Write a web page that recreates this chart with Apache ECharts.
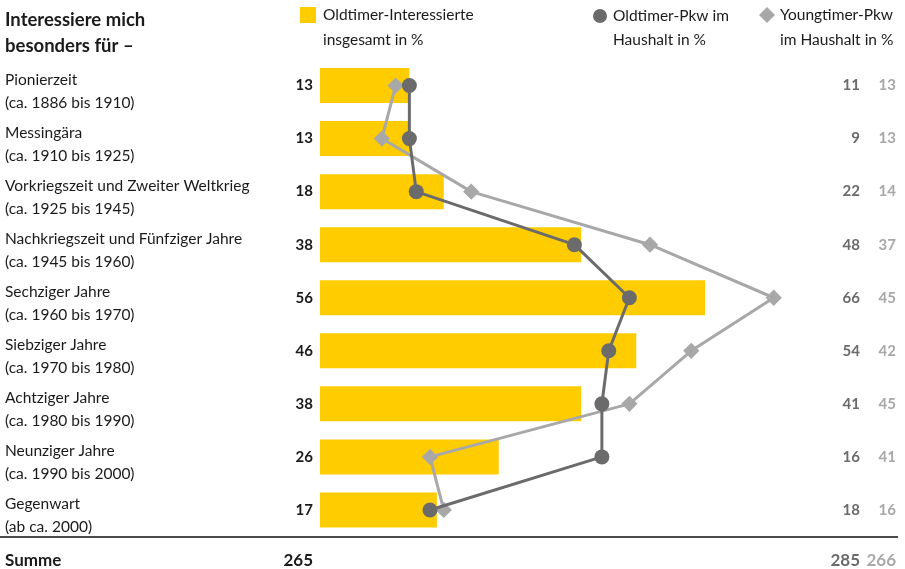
<!DOCTYPE html>
<html><head><meta charset="utf-8">
<script src="https://cdn.jsdelivr.net/npm/echarts@6/dist/echarts.min.js"></script>
<style>html,body{margin:0;padding:0;background:#fff}#c{width:905px;height:569px}</style>
</head><body><div id="c"></div><script>
const categoryNames = ['Pionierzeit','Messingära','Vorkriegszeit und Zweiter Weltkrieg','Nachkriegszeit und Fünfziger Jahre','Sechziger Jahre','Siebziger Jahre','Achtziger Jahre','Neunziger Jahre','Gegenwart'];
const categoryPeriods = ['(ca. 1886 bis 1910)','(ca. 1910 bis 1925)','(ca. 1925 bis 1945)','(ca. 1945 bis 1960)','(ca. 1960 bis 1970)','(ca. 1970 bis 1980)','(ca. 1980 bis 1990)','(ca. 1990 bis 2000)','(ab ca. 2000)'];
const interestPct = [13,13,18,38,56,46,38,26,17];
const oldtimerPkwPct = [11,9,22,48,66,54,41,16,18];
const youngtimerPkwPct = [13,13,14,37,45,42,45,41,16];
// marker positions as drawn in the original graphic
const oldtimerPkwMarkers = [13,13,14,37,45,42,41,41,16];
const youngtimerPkwMarkers = [11,9,22,48,66,54,45,16,18];
const sumLabel = 'Summe';
const sumValues = [265,285,266];
const seriesNames = ['Oldtimer-Interessierte insgesamt in %','Oldtimer-Pkw im Haushalt in %','Youngtimer-Pkw im Haushalt in %'];
const legendLines = [['Oldtimer-Interessierte','insgesamt in %'],['Oldtimer-Pkw im','Haushalt in %'],['Youngtimer-Pkw','im Haushalt in %']];
const headerLines = ['Interessiere mich','besonders für –'];

const FONT = 'Lato';
const FS = 15.5;
const YELLOW = '#FFCC00', DARK = '#6b6b6b', LIGHT = '#a8a8a8', BLACK = '#1a1a1a';

const chart = echarts.init(document.getElementById('c'), null, {renderer:'canvas'});
function legendFor(i, left, iconName, w, h, padL) {
  return {
    show: true, left: left, top: 15 - h / 2, orient: 'horizontal',
    itemWidth: w, itemHeight: h, itemGap: 0, padding: 0,
    selectedMode: false,
    data: [{name: seriesNames[i], icon: iconName}],
    formatter: () => legendLines[i][0],
    textStyle: {fontFamily: FONT, fontSize: FS, color: BLACK, padding: [0,0,0,padL]}
  };
}
const legendSecond = [[323], [613], [780]];
const option = {
  animation: false,
  textStyle: {fontFamily: FONT},
  grid: {left: 320, right: 35, top: 59, height: 477.5, containLabel: false},
  xAxis: {type: 'value', min: 0, max: 80, show: false},
  yAxis: [
    {type: 'category', inverse: true, data: categoryNames,
     axisLine: {show: false}, axisTick: {show: false}, splitLine: {show: false},
     axisLabel: {align: 'left', margin: 315, padding: [11,0,0,0],
       formatter: (v, i) => '{n|' + v + '}\n{p|' + categoryPeriods[i] + '}',
       rich: {n: {fontFamily: FONT, fontSize: FS, color: BLACK, lineHeight: 23},
              p: {fontFamily: FONT, fontSize: FS, color: BLACK, lineHeight: 23}}}},
    {type: 'category', inverse: true, position: 'right', data: categoryNames,
     axisLine: {show: false}, axisTick: {show: false},
     axisLabel: {align: 'right', margin: -10, fontFamily: FONT, fontSize: 15, fontWeight: 'bold', color: DARK,
       formatter: (v, i) => String(oldtimerPkwPct[i])}},
    {type: 'category', inverse: true, position: 'right', data: categoryNames,
     axisLine: {show: false}, axisTick: {show: false},
     axisLabel: {align: 'right', margin: 26, fontFamily: FONT, fontSize: 15, fontWeight: 'bold', color: LIGHT,
       formatter: (v, i) => String(youngtimerPkwPct[i])}}
  ],
  legend: [
    legendFor(0, 300, 'rect', 16, 16, 2),
    legendFor(1, 593, 'circle', 14, 14, 1),
    legendFor(2, 759, 'diamond', 16, 16, 0)
  ],
  series: [
    {name: seriesNames[0], type: 'bar', data: interestPct, barWidth: 35,
     itemStyle: {color: YELLOW},
     label: {show: true, position: 'left', distance: 7, fontFamily: FONT, fontSize: 15, fontWeight: 'bold', color: BLACK}},
    {name: seriesNames[2], type: 'line', data: youngtimerPkwMarkers, symbol: 'rect', symbolRotate: 45, symbolSize: 11.5,
     itemStyle: {color: LIGHT}, lineStyle: {color: LIGHT, width: 3}, z: 3},
    {name: seriesNames[1], type: 'line', data: oldtimerPkwMarkers, symbol: 'circle', symbolSize: 15,
     itemStyle: {color: DARK}, lineStyle: {color: DARK, width: 3}, z: 4}
  ],
  graphic: [
    {type: 'text', left: 5, top: 7, style: {text: headerLines.join('\n'), font: 'bold 18.5px ' + FONT, fill: BLACK, lineHeight: 26}},
    {type: 'text', x: legendSecond[0][0], y: 40, style: {text: legendLines[0][1], font: FS + 'px ' + FONT, fill: BLACK, verticalAlign: 'middle'}},
    {type: 'text', x: legendSecond[1][0], y: 40, style: {text: legendLines[1][1], font: FS + 'px ' + FONT, fill: BLACK, verticalAlign: 'middle'}},
    {type: 'text', x: legendSecond[2][0], y: 40, style: {text: legendLines[2][1], font: FS + 'px ' + FONT, fill: BLACK, verticalAlign: 'middle'}},
    {type: 'line', shape: {x1: 0, y1: 537, x2: 898, y2: 537}, style: {stroke: '#111', lineWidth: 1.5}},
    {type: 'text', x: 5, y: 561, style: {text: sumLabel, font: 'bold 17px ' + FONT, fill: BLACK, verticalAlign: 'middle'}},
    {type: 'text', x: 313, y: 561, style: {text: String(sumValues[0]), font: 'bold 17px ' + FONT, fill: BLACK, align: 'right', verticalAlign: 'middle'}},
    {type: 'text', x: 860, y: 561, style: {text: String(sumValues[1]), font: 'bold 17px ' + FONT, fill: DARK, align: 'right', verticalAlign: 'middle'}},
    {type: 'text', x: 896, y: 561, style: {text: String(sumValues[2]), font: 'bold 17px ' + FONT, fill: LIGHT, align: 'right', verticalAlign: 'middle'}}
  ]
};
chart.setOption(option);
</script></body></html>
